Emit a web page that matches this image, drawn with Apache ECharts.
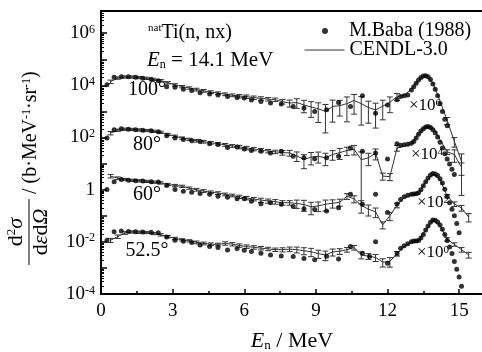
<!DOCTYPE html>
<html>
<head>
<meta charset="utf-8">
<script src="https://cdn.jsdelivr.net/npm/echarts@6/dist/echarts.min.js"></script>
<style>
  html, body { margin: 0; padding: 0; background: #fff; }
  #chart { width: 482px; height: 352px; }
</style>
</head>
<body>
<div id="chart"></div>
<script>
const FONT = '"Liberation Serif", "Times New Roman", serif';

// emitted neutron energy (MeV) of the M.Baba points
const babaE = [0.25, 0.55, 0.85, 1.15, 1.45, 1.75, 2.1, 2.4, 2.75, 3.1, 3.45, 3.8, 4.15, 4.55, 4.9, 5.3, 5.7, 6.0, 6.3, 6.7,
  7.1, 7.55, 8.05, 8.5, 8.95, 9.45, 9.95, 10.45, 10.95, 11.25, 11.5, 12.0, 12.4, 12.55, 12.7, 12.85, 13.0, 13.1, 13.2, 13.3,
  13.4, 13.5, 13.6, 13.7, 13.8, 13.9, 14.0, 14.1, 14.2, 14.3, 14.4, 14.5, 14.6, 14.7, 14.8, 14.9, 15.0, 15.1];

// log10 of the plotted d2σ/dεdΩ (b/MeV/sr), already multiplied by the ×10^n of each angle
const baba100 = [4.02, 4.31, 4.33, 4.33, 4.31, 4.27, 4.23, 4.18, 3.95, 3.93, 3.85, 3.80, 3.72, 3.67, 3.63, 3.57, 3.53, 3.51, 3.44, 3.38,
  3.32, 3.28, 3.19, 3.13, 3.00, 3.06, 3.34, 3.19, 3.60, null, 2.93, 3.25, 3.45, 3.57, 3.60, 3.63, 3.82, 3.95, 4.08, 4.20,
  4.30, 4.36, 4.37, 4.33, 4.22, 4.05, 3.85, 3.60, 3.30, 3.00, 2.70, 2.45, null, null, null, null, null, null];
const baba80 = [1.98, 2.30, 2.34, 2.32, 2.30, 2.28, 2.26, 2.22, 2.07, 1.98, 1.92, 1.88, 1.85, 1.76, 1.73, 1.62, 1.64, 1.56, 1.50, 1.47,
  1.41, 1.47, 1.28, 1.22, 1.19, 1.22, 1.28, 1.60, 1.47, null, 1.41, 1.18, 1.76, 1.70, 1.72, 1.74, 1.78, 1.85, 1.98, 2.12,
  2.25, 2.34, 2.40, 2.42, 2.38, 2.30, 2.18, 2.02, 1.82, 1.60, 1.38, 1.18, 0.98, 0.78, 0.58, null, null, null];
const baba60 = [0.01, 0.30, 0.39, 0.36, 0.34, 0.33, 0.30, 0.29, 0.16, 0.01, -0.06, -0.10, -0.15, -0.18, -0.25, -0.29, -0.35, -0.35, -0.44, -0.54,
  -0.50, -0.56, -0.65, -0.73, -0.76, -0.82, -0.69, -0.18, -0.56, null, -0.18, -0.88, -0.55, -0.38, -0.27, -0.21, -0.18, -0.17, -0.16, -0.12,
  0.00, 0.15, 0.30, 0.45, 0.56, 0.62, 0.60, 0.54, 0.42, 0.26, 0.02, -0.25, -0.50, -0.75, -1.00, -1.30, -1.65, null];
const baba52 = [-1.94, -1.61, -1.58, -1.60, -1.61, -1.62, -1.63, -1.65, -1.81, -1.94, -1.98, -2.03, -2.12, -2.18, -2.22, -2.31, -2.26, -2.32, -2.37, -2.44,
  -2.50, -2.54, -2.56, -2.64, -2.69, -2.55, -2.66, -2.18, -2.44, -2.56, -2.00, -2.82, -2.45, -2.25, -2.15, -2.07, -2.00, -1.97, -1.97, -1.95,
  -1.85, -1.72, -1.55, -1.39, -1.25, -1.16, -1.17, -1.24, -1.35, -1.52, -1.72, -1.95, -2.20, -2.45, -2.75, -3.05, -3.35, -3.70];

// CENDL-3.0 energy grid (MeV)
const cendlE = [0.4, 0.7, 1.0, 1.3, 1.6, 1.9, 2.2, 2.5, 2.8, 3.1, 3.4, 3.7, 4.0, 4.3, 4.6, 4.9, 5.2, 5.5, 5.8, 6.1,
  6.4, 6.7, 7.0, 7.3, 7.6, 7.9, 8.2, 8.5, 8.8, 9.1, 9.4, 9.7, 10.0, 10.3, 10.6, 10.9, 11.2, 11.5, 11.8, 12.1,
  12.4, 12.7, 13.0, 13.3, 13.6, 13.9, 14.2, 14.5, 14.8, 15.1, 15.4];

const cendl100 = [4.14, 4.28, 4.32, 4.32, 4.30, 4.27, 4.23, 4.18, 4.10, 4.02, 3.95, 3.90, 3.84, 3.79, 3.74, 3.70, 3.66, 3.62, 3.59, 3.57,
  3.53, 3.50, 3.47, 3.45, 3.38, 3.32, 3.34, 3.25, 3.17, 3.10, 3.00, 3.19, 3.22, 3.30, 3.42, 3.30, 3.15, 3.06, 3.20, 3.35,
  3.57, 3.62, 3.85, 4.20, 4.37, 4.10, 3.40, 2.65, 1.85, 1.08, null];
const cendl80 = [2.17, 2.28, 2.32, 2.31, 2.29, 2.27, 2.24, 2.20, 2.12, 2.05, 1.98, 1.93, 1.88, 1.84, 1.80, 1.76, 1.72, 1.68, 1.64, 1.60,
  1.56, 1.52, 1.48, 1.45, 1.42, 1.41, 1.30, 1.15, 1.25, 1.28, 1.22, 1.35, 1.42, 1.50, 1.55, 1.15, 1.22, 1.40, 0.52, 0.50,
  1.60, 1.67, 1.75, 2.15, 2.42, 2.40, 1.92, 1.45, 1.35, 0.85, null];
const cendl60 = [0.52, 0.44, 0.39, 0.36, 0.34, 0.32, 0.29, 0.26, 0.20, 0.16, 0.13, 0.06, 0.00, -0.05, -0.10, -0.13, -0.18, -0.22, -0.27, -0.32,
  -0.36, -0.40, -0.43, -0.46, -0.50, -0.50, -0.53, -0.57, -0.66, -0.62, -0.56, -0.52, -0.48, -0.25, -0.35, -0.60, -0.75, -0.85, -1.35, -1.00,
  -0.60, -0.30, -0.20, -0.14, 0.30, 0.60, 0.40, -0.25, -0.55, -0.70, -1.05];
const cendl52 = [-1.94, -1.80, -1.66, -1.62, -1.63, -1.64, -1.68, -1.73, -1.80, -1.87, -1.92, -1.96, -2.02, -2.06, -2.09, -2.10, -2.06, -2.09, -2.14, -2.18,
  -2.21, -2.24, -2.27, -2.30, -2.30, -2.28, -2.30, -2.34, -2.38, -2.45, -2.50, -2.39, -2.36, -2.30, -2.22, -2.50, -2.55, -2.60, -2.78, -2.75,
  -2.45, -2.18, -2.02, -1.95, -1.55, -1.18, -1.38, -1.90, -2.10, -2.30, -2.50];

// relative uncertainty drawn on the CENDL points (0 = no bar)
const err100 = [0.15, 0.1, 0.1, 0.1, 0.1, 0.1, 0.1, 0.1, 0.1, 0.1, 0.1, 0.1, 0.12, 0.12, 0.12, 0.12, 0.12, 0.12, 0.15, 0.15,
  0.15, 0.15, 0.15, 0.15, 0.2, 0.3, 0.4, 0.5, 0.6, 0.7, 0.85, 0.75, 0.6, 0.8, 0.7, 0.85, 0.75, 0.8, 0.7, 0.6,
  0.3, 0, 0, 0, 0, 0, 0, 0.3, 0.4, 0.95, null];
const err80 = [0.15, 0.1, 0.1, 0.1, 0.1, 0.1, 0.1, 0.1, 0.1, 0.1, 0.1, 0.1, 0.12, 0.12, 0.12, 0.12, 0.12, 0.12, 0.15, 0.15,
  0.15, 0.15, 0.15, 0.15, 0.2, 0.25, 0.4, 0.55, 0.5, 0.45, 0.5, 0.4, 0.45, 0.35, 0.4, 0.98, 0.5, 0.45, 0.3, 0.3,
  0.25, 0, 0, 0, 0, 0, 0, 0.2, 0.5, 0.5, null];
const err60 = [0.15, 0.12, 0.1, 0.1, 0.1, 0.1, 0.1, 0.1, 0.1, 0.1, 0.1, 0.1, 0.12, 0.12, 0.12, 0.12, 0.12, 0.12, 0.15, 0.15,
  0.15, 0.18, 0.18, 0.2, 0.2, 0.2, 0.35, 0.45, 0.5, 0.4, 0.45, 0.35, 0.3, 0.25, 0.3, 0.5, 0.45, 0.4, 0.3, 0.35,
  0.2, 0, 0, 0, 0, 0, 0, 0.15, 0.2, 0.25, 0.35];
const err52 = [0.18, 0.15, 0.12, 0.1, 0.1, 0.1, 0.1, 0.1, 0.1, 0.1, 0.1, 0.1, 0.12, 0.12, 0.12, 0.12, 0.15, 0.15, 0.15, 0.15,
  0.15, 0.15, 0.15, 0.15, 0.18, 0.2, 0.25, 0.3, 0.35, 0.35, 0.4, 0.3, 0.25, 0.2, 0.2, 0.3, 0.25, 0.3, 0.35, 0.4,
  0.2, 0, 0, 0, 0, 0, 0, 0.15, 0.15, 0.2, 0.25];

const angleLabels = ['100°', '80°', '60°', '52.5°'];
const scaleExps = [6, 4, 2, 0];
const yLabelExps = [-4, -2, 0, 2, 4, 6];
const xTickValues = [0, 3, 6, 9, 12, 15];
const xMinorValues = [1.5, 4.5, 7.5, 10.5, 13.5];

const babaSets = [baba100, baba80, baba60, baba52];
const cendlSets = [cendl100, cendl80, cendl60, cendl52];
const errSets = [err100, err80, err60, err52];

const pairs = (xs, ys) => xs.map((x, i) => [x, ys[i]]).filter(p => p[1] != null);

const yMinor = [];
for (let k = -4; k <= 6; k++) {
  for (let m = 2; m <= 9; m++) {
    const v = k + Math.log10(m);
    if (v < 6.85) yMinor.push(v);
  }
}

const bars = [];
cendlSets.forEach((set, s) => {
  set.forEach((v, i) => {
    const r = errSets[s][i];
    if (v == null || !r) return;
    bars.push([cendlE[i], v + Math.log10(1 + r), v + Math.log10(1 - Math.min(r, 0.99))]);
  });
});

const series = [{
  type: 'custom',
  name: 'err',
  silent: true,
  clip: true,
  data: bars,
  encode: { x: 0, y: [1, 2] },
  renderItem(params, api) {
    const top = api.coord([api.value(0), api.value(1)]);
    const bot = api.coord([api.value(0), api.value(2)]);
    const w = 3;
    const st = { stroke: '#333', lineWidth: 1 };
    return {
      type: 'group',
      children: [
        { type: 'line', shape: { x1: top[0], y1: top[1], x2: bot[0], y2: bot[1] }, style: st },
        { type: 'line', shape: { x1: top[0] - w, y1: top[1], x2: top[0] + w, y2: top[1] }, style: st },
        { type: 'line', shape: { x1: bot[0] - w, y1: bot[1], x2: bot[0] + w, y2: bot[1] }, style: st }
      ]
    };
  }
}];

cendlSets.forEach(set => {
  series.push({
    type: 'line', name: 'CENDL-3.0', data: pairs(cendlE, set),
    symbol: 'none', showSymbol: false, color: '#333', lineStyle: { color: '#333', width: 1 }, z: 3
  });
});
babaSets.forEach(set => {
  series.push({
    type: 'scatter', name: 'M.Baba (1988)', data: pairs(babaE, set),
    symbol: 'circle', symbolSize: 5, itemStyle: { color: '#000' }, z: 4
  });
});

const supText = (base, exp, big, small) => ({
  text: '{b|' + base + '}{s|' + exp + '}',
  rich: {
    b: { fontFamily: FONT, fontSize: big, fill: '#000', color: '#000' },
    s: { fontFamily: FONT, fontSize: small, fill: '#000', color: '#000', verticalAlign: 'top' }
  }
});

const angleY = [90, 145, 195, 251];
const scaleY = [106, 155, 203, 253];
const scaleX = [409, 411, 417, 417];

const graphic = [];
angleLabels.forEach((t, i) => {
  graphic.push({
    type: 'text', x: 147, y: angleY[i],
    style: { text: t, fontFamily: FONT, fontSize: 20, fill: '#000', textAlign: 'center', textVerticalAlign: 'middle' }
  });
  graphic.push({
    type: 'text', x: scaleX[i], y: scaleY[i],
    style: Object.assign(supText('×10', String(scaleExps[i]), 17, 11), { textAlign: 'left', textVerticalAlign: 'middle' })
  });
});

graphic.push({
  type: 'text', x: 148, y: 33,
  style: {
    text: '{s|nat}{b|Ti(n, nx)}', textAlign: 'left', textVerticalAlign: 'middle',
    rich: {
      b: { fontFamily: FONT, fontSize: 20, fill: '#000' },
      s: { fontFamily: FONT, fontSize: 11, fill: '#000', verticalAlign: 'top' }
    }
  }
});
graphic.push({
  type: 'text', x: 147, y: 60,
  style: {
    text: '{i|E}{s|n}{b| = 14.1 MeV}', textAlign: 'left', textVerticalAlign: 'middle',
    rich: {
      i: { fontFamily: FONT, fontSize: 21, fontStyle: 'italic', fill: '#000' },
      s: { fontFamily: FONT, fontSize: 12, fill: '#000', verticalAlign: 'bottom' },
      b: { fontFamily: FONT, fontSize: 21, fill: '#000' }
    }
  }
});

// y-axis title: d2σ/dεdΩ / (b·MeV-1·sr-1), rotated to read upwards
graphic.push({
  type: 'group', x: 29, y: 232, rotation: Math.PI / 2,
  children: [
    {
      type: 'text', x: 0, y: -13,
      style: {
        text: '{a|d}{s|2}{g|σ}', textAlign: 'center', textVerticalAlign: 'middle',
        rich: {
          a: { fontFamily: FONT, fontSize: 22, fill: '#000' },
          s: { fontFamily: FONT, fontSize: 13, fill: '#000', verticalAlign: 'top' },
          g: { fontFamily: FONT, fontSize: 22, fontStyle: 'italic', fill: '#000' }
        }
      }
    },
    { type: 'line', shape: { x1: -33, y1: 0, x2: 33, y2: 0 }, style: { stroke: '#000', lineWidth: 1 } },
    {
      type: 'text', x: 0, y: 12,
      style: {
        text: '{a|d}{g|ε}{a|d}{g|Ω}', textAlign: 'center', textVerticalAlign: 'middle',
        rich: {
          a: { fontFamily: FONT, fontSize: 22, fill: '#000' },
          g: { fontFamily: FONT, fontSize: 22, fontStyle: 'italic', fill: '#000' }
        }
      }
    },
    {
      type: 'text', x: 38, y: 2,
      style: {
        text: '{a|/ (b·MeV}{s|-1}{a|·sr}{s|-1}{a|)}', textAlign: 'left', textVerticalAlign: 'middle',
        rich: {
          a: { fontFamily: FONT, fontSize: 20, fill: '#000' },
          s: { fontFamily: FONT, fontSize: 12, fill: '#000', verticalAlign: 'top' }
        }
      }
    }
  ]
});

const chart = echarts.init(document.getElementById('chart'));
chart.setOption({
  animation: false,
  backgroundColor: '#fff',
  grid: {
    left: 101, right: -1, top: 11, bottom: 58, outerBoundsMode: 'none',
    show: true, borderColor: '#000', borderWidth: 2, backgroundColor: 'transparent'
  },
  legend: [
    {
      data: ['M.Baba (1988)'], left: 322, top: 21, padding: 0, itemWidth: 6, itemHeight: 6, selectedMode: false,
      textStyle: { fontFamily: FONT, fontSize: 20, color: '#000', padding: [0, 0, 0, 16] }
    },
    {
      data: ['CENDL-3.0'], left: 304, top: 40, padding: 0, itemWidth: 40, itemHeight: 14, selectedMode: false,
      itemStyle: { opacity: 0 },
      lineStyle: { color: '#333', width: 1 },
      textStyle: { fontFamily: FONT, fontSize: 20, color: '#000' }
    }
  ],
  xAxis: [
    {
      type: 'value', min: 0, max: 16,
      name: '{i|E}{s|n}{b| / MeV}', nameLocation: 'middle', nameGap: 36,
      nameTextStyle: {
        rich: {
          i: { fontFamily: FONT, fontSize: 22, fontStyle: 'italic', color: '#000' },
          s: { fontFamily: FONT, fontSize: 13, color: '#000', verticalAlign: 'bottom' },
          b: { fontFamily: FONT, fontSize: 22, color: '#000' }
        }
      },
      axisLine: { onZero: false, lineStyle: { color: '#000', width: 2 } },
      axisTick: { inside: true, length: 5, customValues: xTickValues, lineStyle: { color: '#000', width: 1.5 } },
      axisLabel: { customValues: xTickValues, margin: 8, fontFamily: FONT, fontSize: 19, color: '#000' },
      splitLine: { show: false }
    },
    {
      type: 'value', min: 0, max: 16, position: 'bottom',
      axisLine: { show: false, onZero: false },
      axisTick: { inside: true, length: 3, customValues: xMinorValues, lineStyle: { color: '#000', width: 1.5 } },
      axisLabel: { show: false },
      splitLine: { show: false }
    }
  ],
  yAxis: [
    {
      type: 'value', min: -4, max: 6.85, interval: 1,
      axisLine: { onZero: false, lineStyle: { color: '#000', width: 2 } },
      axisTick: { inside: true, length: 6, lineStyle: { color: '#000', width: 1.5 } },
      axisLabel: {
        customValues: yLabelExps, margin: 6,
        formatter: v => {
          if (!Number.isInteger(v) || v % 2 !== 0) return '';
          return v === 0 ? '{b|1}' : '{b|10}{s|' + v + '}';
        },
        rich: {
          b: { fontFamily: FONT, fontSize: 19, color: '#000' },
          s: { fontFamily: FONT, fontSize: 12, color: '#000', verticalAlign: 'top' }
        }
      },
      splitLine: { show: false }
    },
    {
      type: 'value', min: -4, max: 6.85, position: 'left',
      axisLine: { show: false, onZero: false },
      axisTick: { inside: true, length: 3, customValues: yMinor, lineStyle: { color: '#000', width: 1 } },
      axisLabel: { show: false },
      splitLine: { show: false }
    }
  ],
  series,
  graphic
});
</script>
</body>
</html>
